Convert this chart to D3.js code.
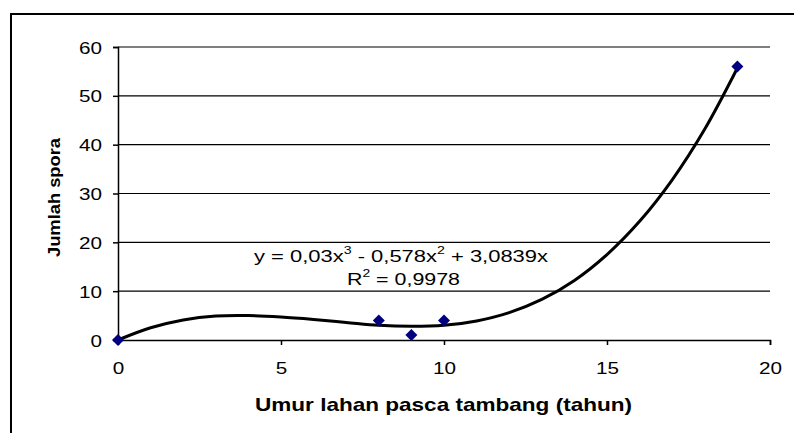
<!DOCTYPE html>
<html>
<head>
<meta charset="utf-8">
<script src="https://cdn.jsdelivr.net/npm/d3@7"></script>
<style>
  body { margin: 0; background: #fff; }
  svg { display: block; font-family: Arial, "Liberation Sans", sans-serif; }
  .tick text { font-size: 17px; fill: #000; }
  .title { font-size: 17px; font-weight: bold; }
  .eq { font-size: 17px; }
</style>
</head>
<body>
<svg width="794" height="433"></svg>
<script>
// observed points
var umur = [0, 8, 9, 10, 19];
var spora = [0, 4, 1, 4, 56];

// trendline at whole years
var trendX = [0, 1, 2, 3, 4, 5, 6, 7, 8, 9, 10, 11, 12, 13, 14, 15, 16, 17, 18, 19];
var trendY = [0, 2.5, 4.1, 4.9, 5.0, 4.7, 4.2, 3.6, 3.0, 2.8, 3.0, 3.9, 5.6, 8.3, 12.2, 17.5, 24.3, 32.8, 43.2, 55.7];

var xTicks = [0, 5, 10, 15, 20];
var yTicks = [0, 10, 20, 30, 40, 50, 60];

var svg = d3.select("svg");

// outer chart frame (cropped on right and bottom)
svg.append("path")
    .attr("d", "M11,433V14H794")
    .attr("fill", "none")
    .attr("stroke", "#000")
    .attr("stroke-width", 2);

var margin = {top: 47, right: 24, bottom: 93, left: 118},
    width = 794 - margin.left - margin.right,
    height = 433 - margin.top - margin.bottom;

var g = svg.append("g")
    .attr("transform", "translate(" + margin.left + "," + margin.top + ")");

var x = d3.scaleLinear().domain([0, 20]).range([0, width]);
var y = d3.scaleLinear().domain([0, 60]).range([height, 0]);

// gridlines
g.append("g")
    .selectAll("line")
    .data(yTicks.slice(1))
  .enter().append("line")
    .attr("x1", 0)
    .attr("x2", width)
    .attr("y1", function(d) { return y(d); })
    .attr("y2", function(d) { return y(d); })
    .attr("stroke", "#000")
    .attr("stroke-width", 1.2);

var yAxis = g.append("g")
    .call(d3.axisLeft(y).tickValues(yTicks).tickSize(5).tickPadding(11));
var xAxis = g.append("g")
    .attr("transform", "translate(0," + height + ")")
    .call(d3.axisBottom(x).tickValues(xTicks).tickSize(5).tickPadding(17));

[yAxis, xAxis].forEach(function(a) {
  a.select(".domain").attr("stroke", "#000").attr("stroke-width", 1.5);
  a.selectAll(".tick line").attr("stroke", "#000").attr("stroke-width", 1.5);
  a.selectAll(".tick text")
      .attr("font-family", null)
      .attr("font-size", null)
      .attr("textLength", function(d) { return 11.5 * String(d).length; })
      .attr("lengthAdjust", "spacingAndGlyphs");
});
yAxis.selectAll(".tick text").attr("dy", "0.36em");

// trendline
var line = d3.line()
    .x(function(d, i) { return x(trendX[i]); })
    .y(function(d) { return y(d); })
    .curve(d3.curveCatmullRom);

g.append("path")
    .datum(trendY)
    .attr("d", line)
    .attr("fill", "none")
    .attr("stroke", "#000")
    .attr("stroke-width", 3)
    .attr("stroke-linejoin", "round");

// markers
var s = 6;
g.selectAll(".pt")
    .data(umur)
  .enter().append("path")
    .attr("class", "pt")
    .attr("transform", function(d, i) { return "translate(" + x(d) + "," + y(spora[i]) + ")"; })
    .attr("d", "M0," + (-s) + "L" + s + ",0L0," + s + "L" + (-s) + ",0Z")
    .attr("fill", "#000080");

// equation label
var eq = svg.append("text")
    .attr("class", "eq")
    .attr("x", 401)
    .attr("y", 262)
    .attr("text-anchor", "middle")
    .attr("textLength", 294)
    .attr("lengthAdjust", "spacingAndGlyphs");
eq.append("tspan").text("y = 0,03x");
eq.append("tspan").attr("dy", -8).attr("font-size", 11).text("3");
eq.append("tspan").attr("dy", 8).text(" - 0,578x");
eq.append("tspan").attr("dy", -8).attr("font-size", 11).text("2");
eq.append("tspan").attr("dy", 8).text(" + 3,0839x");

var r2 = svg.append("text")
    .attr("class", "eq")
    .attr("x", 403.5)
    .attr("y", 285)
    .attr("text-anchor", "middle")
    .attr("textLength", 113)
    .attr("lengthAdjust", "spacingAndGlyphs");
r2.append("tspan").text("R");
r2.append("tspan").attr("dy", -8).attr("font-size", 11).text("2");
r2.append("tspan").attr("dy", 8).text(" = 0,9978");

// axis titles
svg.append("text")
    .attr("class", "title")
    .attr("transform", "translate(59.5,197.5) rotate(-90)")
    .attr("text-anchor", "middle")
    .attr("textLength", 119)
    .attr("lengthAdjust", "spacingAndGlyphs")
    .text("Jumlah spora");

svg.append("text")
    .attr("class", "title")
    .attr("x", 443.5)
    .attr("y", 411)
    .attr("font-size", "18.5px")
    .style("font-size", "18.5px")
    .attr("text-anchor", "middle")
    .attr("textLength", 377)
    .attr("lengthAdjust", "spacingAndGlyphs")
    .text("Umur lahan pasca tambang (tahun)");
</script>
</body>
</html>
